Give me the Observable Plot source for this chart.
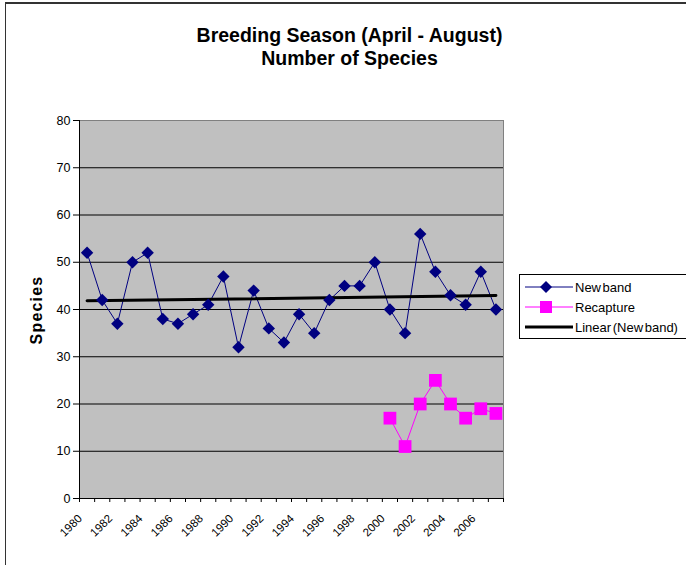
<!DOCTYPE html>
<html><head><meta charset="utf-8">
<script src="https://cdn.jsdelivr.net/npm/d3@7"></script>
<script src="https://cdn.jsdelivr.net/npm/@observablehq/plot@0.6"></script>
<style>
body{margin:0;background:#fff;font-family:Arial,"Liberation Sans",sans-serif;color:#000}
#wrap{position:relative;width:686px;height:565px;overflow:hidden;background:#fff}
#frame{position:absolute;left:5px;top:2px;right:-10px;bottom:-10px;border-top:2px solid #333;border-left:1.5px solid #333;pointer-events:none}
#title{position:absolute;left:0;width:699px;top:23.5px;text-align:center;font-weight:bold;font-size:19.5px;line-height:23.5px}
#ylab{position:absolute;left:36.5px;top:309.5px;transform:translate(-50%,-50%) rotate(-90deg);font-weight:bold;font-size:16px;letter-spacing:1.2px;white-space:nowrap}
#chart{position:absolute;left:0;top:0}
#legend{position:absolute;left:519px;top:274px;width:180px;height:63px;border:1px solid #000;background:#fff;font-size:13px;word-spacing:-2px}
.row{position:absolute;left:0;height:20px;display:flex;align-items:center}
.row svg{display:block;margin-left:3px}
.row span{margin-left:2px}
</style></head>
<body>
<div id="wrap">
  <div id="chart"></div>
  <div id="title">Breeding Season (April - August)<br>Number of Species</div>
  <div id="ylab">Species</div>
  <div id="legend"></div>
  <div id="frame"></div>
</div>
<script>
// ---- data ----
const years = [1980,1981,1982,1983,1984,1985,1986,1987,1988,1989,1990,1991,1992,1993,1994,1995,1996,1997,1998,1999,2000,2001,2002,2003,2004,2005,2006,2007];
const newBand = [52,42,37,50,52,38,37,39,41,47,32,44,36,33,39,35,42,45,45,50,40,35,56,48,43,41,48,40];
const recapYears = [2000,2001,2002,2003,2004,2005,2006,2007];
const recapture = [17,11,20,25,20,17,19,18];
const yTicks = [0,10,20,30,40,50,60,70,80];
const xTickLabels = ["1980","1982","1984","1986","1988","1990","1992","1994","1996","1998","2000","2002","2004","2006"];
const seriesNames = ["New band","Recapture","Linear (New band)"];

const nb = years.map((y,i)=>({year:y, value:newBand[i]}));
const rc = recapYears.map((y,i)=>({year:y, value:recapture[i]}));
const bounds = years.map(y=>y-0.5).concat([years[years.length-1]+0.5]);

const NAVY = "#000080", MAG = "#ff00ff";

const chart = Plot.plot({
  width:686, height:565,
  marginLeft:79, marginRight:183, marginTop:120, marginBottom:67,
  x:{type:"linear", domain:[bounds[0], bounds[bounds.length-1]], label:null},
  y:{domain:[0,80], label:null},
  style:{fontFamily:"Arial, 'Liberation Sans', sans-serif", background:"transparent", color:"#000", overflow:"visible"},
  marks:[
    Plot.frame({fill:"#c0c0c0", stroke:"#808080"}),
    Plot.ruleY(yTicks.slice(1,-1), {stroke:"#000", strokeWidth:1}),
    Plot.ruleX([bounds[0]], {stroke:"#000"}),
    Plot.ruleY([0], {stroke:"#000"}),
    Plot.axisX({ticks:bounds, tickSize:4, tickFormat:()=>"", label:null, stroke:"#000"}),
    Plot.axisY({ticks:yTicks, tickSize:6, tickPadding:3, fontSize:12.5, label:null, stroke:"#000", fill:"#000"}),
    Plot.text(xTickLabels, {x:d=>+d, frameAnchor:"bottom", text:d=>d, rotate:-45, textAnchor:"end", lineAnchor:"middle", dx:-7, dy:18, fontSize:11.5, fill:"#000"}),
    Plot.line(nb, {x:"year", y:"value", stroke:NAVY, strokeWidth:1}),
    Plot.linearRegressionY(nb, {x:"year", y:"value", stroke:"#000", strokeWidth:3, ci:0}),
    Plot.dot(nb, {x:"year", y:"value", symbol:"diamond2", r:5.6, fill:NAVY, stroke:"none"}),
    Plot.line(rc, {x:"year", y:"value", stroke:MAG, strokeWidth:1}),
    Plot.dot(rc, {x:"year", y:"value", symbol:"square", r:7.2, fill:MAG, stroke:"none"})
  ]
});
document.getElementById("chart").appendChild(chart);

// legend
const leg = document.getElementById("legend");
const swatches = [
  {stroke:NAVY, w:1, marker:"diamond"},
  {stroke:MAG, w:1, marker:"square"},
  {stroke:"#000", w:3, marker:null}
];
const rowTops = [2, 22, 42];
seriesNames.forEach((name,i)=>{
  const s = swatches[i];
  const row = document.createElement("div");
  row.className = "row"; row.style.top = rowTops[i]+"px";
  let m = "";
  if (s.marker==="diamond") m = `<path d="M23,4L29,10L23,16L17,10Z" fill="${NAVY}"/>`;
  if (s.marker==="square") m = `<rect x="17" y="4" width="12" height="12" fill="${MAG}"/>`;
  row.innerHTML = `<svg width="50" height="20"><line x1="2" x2="50" y1="10" y2="10" stroke="${s.stroke}" stroke-width="${s.w}"/>${m}</svg><span>${name}</span>`;
  leg.appendChild(row);
});
</script>
</body></html>
